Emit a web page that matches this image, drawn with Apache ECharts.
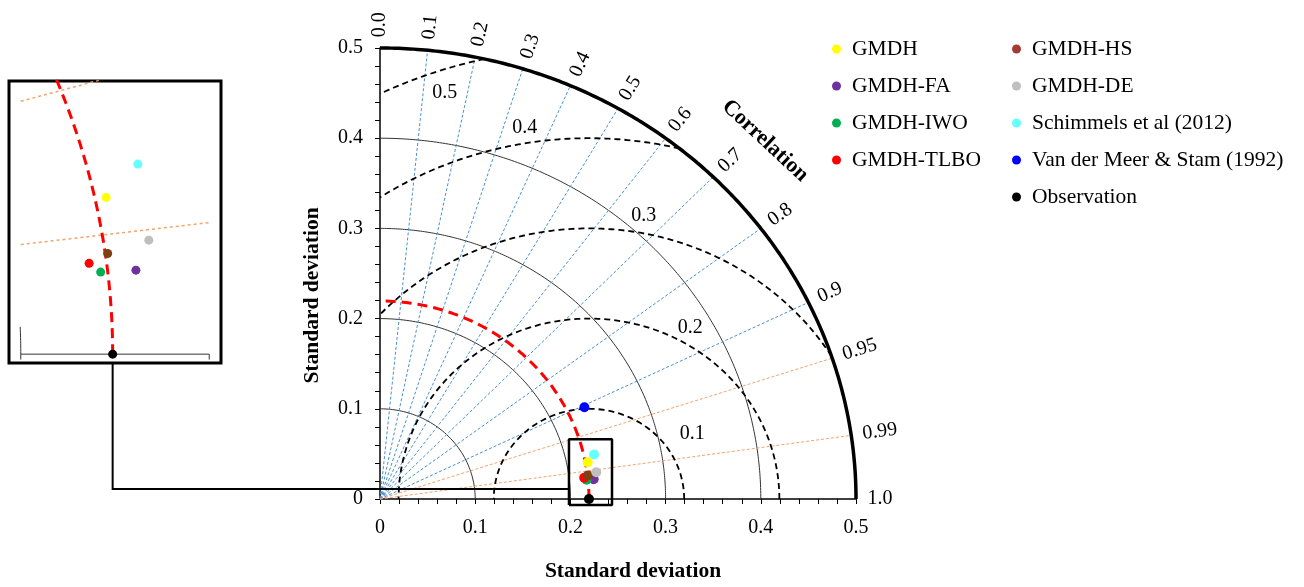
<!DOCTYPE html>
<html><head><meta charset="utf-8">
<script src="https://cdn.jsdelivr.net/npm/echarts@6/dist/echarts.min.js"></script>
<style>html,body{margin:0;padding:0;background:#fff}#c{width:1304px;height:587px}</style>
</head><body><div id="c"></div>
<script>
// ---- data ----
const modelNames = ['GMDH','GMDH-FA','GMDH-IWO','GMDH-TLBO','GMDH-HS','GMDH-DE','Schimmels et al (2012)','Van der Meer & Stam (1992)','Observation'];
const markerColors = ['#FFFF00','#7030A0','#00B050','#FF0000','#7E3F12','#BFBFBF','#66FFFF','#0000FF','#000000'];
const legendColors = ['#FFFF00','#7030A0','#00B050','#FF0000','#A33A33','#BFBFBF','#66FFFF','#0000FF','#000000'];
const stdDev      = [0.2219, 0.2255, 0.2180, 0.2158, 0.2200, 0.2291, 0.2302, 0.2376, 0.2195];
const correlation = [0.9830, 0.9953, 0.9952, 0.9940, 0.9929, 0.9916, 0.9767, 0.9036, 1.0];
const stdTicks = [0, 0.1, 0.2, 0.3, 0.4, 0.5];
const stdArcs = [0.1, 0.2, 0.3, 0.4];
const corrTicks = [0.0, 0.1, 0.2, 0.3, 0.4, 0.5, 0.6, 0.7, 0.8, 0.9, 0.95, 0.99, 1.0];
const corrTickLabels = ['0.0','0.1','0.2','0.3','0.4','0.5','0.6','0.7','0.8','0.9','0.95','0.99','1.0'];
const rmsdLevels = [0.1, 0.2, 0.3, 0.4, 0.5];
const rmsdLabels = ['0.1','0.2','0.3','0.4','0.5'];

// ---- helpers ----
const FONT = '"Liberation Serif","Times New Roman",serif';
const obsStd = stdDev[stdDev.length - 1];
const maxStd = stdTicks[stdTicks.length - 1];
const toXY = (s, c) => [s * c, s * Math.sqrt(Math.max(0, 1 - c * c))];
function arc(cx, cy, r, t0, t1, n) {
  n = n || 200; const p = [];
  for (let i = 0; i <= n; i++) { const t = t0 + (t1 - t0) * i / n; p.push([cx + r * Math.cos(t), cy + r * Math.sin(t)]); }
  return p;
}
function lineS(data, color, width, type, extra) {
  return Object.assign({ type: 'line', data: data, showSymbol: false, symbol: 'none', silent: true,
    animation: false, clip: false, z: 2, lineStyle: { color: color, width: width, type: type } }, extra || {});
}

const series = [];
// std arcs
stdArcs.forEach(r => series.push(lineS(arc(0, 0, r, 0, Math.PI / 2), '#333', 1, 'solid')));
series.push(lineS(arc(0, 0, maxStd, 0, Math.PI / 2), '#000', 3.5, 'solid', { z: 4 }));
// correlation rays
corrTicks.forEach(c => {
  if (c <= 0 || c >= 1) return;
  const col = c > 0.9 ? '#F4A36C' : '#4A90D0';
  series.push(lineS([[0, 0], toXY(maxStd, c)], col, 1, [3, 2]));
});
// RMSD arcs centred on observation
rmsdLevels.forEach(R => {
  const lo = Math.max(-1, -obsStd / R);
  const hi = Math.min(1, (maxStd * maxStd - obsStd * obsStd - R * R) / (2 * obsStd * R));
  series.push(lineS(arc(obsStd, 0, R, Math.acos(hi), Math.acos(lo)), '#000', 1.8, [6, 4], { z: 3 }));
});
// reference (observation std) arc
series.push(lineS(arc(0, 0, obsStd, 0, Math.PI / 2), '#FF0000', 3, [10, 6], { z: 3 }));

// zoom box in main plot
const boxX = [0.1985, 0.2437], boxY = [-0.0066, 0.0663];
const connectorY = 0.011;
series.push(lineS([[boxX[0], boxY[0]], [boxX[1], boxY[0]], [boxX[1], boxY[1]], [boxX[0], boxY[1]], [boxX[0], boxY[0]]], '#000', 2.5, 'solid', { z: 6 }));

// main scatter
modelNames.forEach((n, i) => {
  series.push({ type: 'scatter', name: n, data: [toXY(stdDev[i], correlation[i])], symbolSize: 10,
    itemStyle: { color: markerColors[i], opacity: 1 }, z: 10, animation: false, clip: false });
});

// texts: correlation labels
series.push({ type: 'custom', silent: true, animation: false, z: 8,
  data: corrTicks.map(c => [c, 0]),
  renderItem: function (params, api) {
    const c = corrTicks[params.dataIndex];
    const o = api.coord([0, 0]);
    const p = api.coord(toXY(0.512, c));
    const ang = Math.atan2(-(p[1] - o[1]), p[0] - o[0]);
    return { type: 'text', x: p[0], y: p[1], rotation: ang,
      style: { text: corrTickLabels[params.dataIndex], fontSize: 20, fontFamily: FONT, fill: '#000', align: 'left', verticalAlign: 'middle' } };
  } });
// "Correlation" title
series.push({ type: 'custom', silent: true, animation: false, z: 8, data: [[0.4045, 0.397]],
  renderItem: function (params, api) {
    const p = api.coord([0.4045, 0.397]);
    return { type: 'text', x: p[0], y: p[1], rotation: -43 * Math.PI / 180,
      style: { text: 'Correlation', fontSize: 22, fontWeight: 'bold', fontFamily: FONT, fill: '#000', align: 'center', verticalAlign: 'middle' } };
  } });
// RMSD labels
const rmsdLabelAt = [[0.328, 0.0725], [0.326, 0.19], [0.277, 0.314], [0.152, 0.412], [0.068, 0.45]];
series.push({ type: 'custom', silent: true, animation: false, z: 8, data: rmsdLabelAt,
  renderItem: function (params, api) {
    const p = api.coord(rmsdLabelAt[params.dataIndex]);
    return { type: 'text', x: p[0], y: p[1],
      style: { text: rmsdLabels[params.dataIndex], fontSize: 20, fontFamily: FONT, fill: '#000', align: 'center', verticalAlign: 'middle' } };
  } });

// ---- inset (grid 1) ----
const ins = { xAxisIndex: 1, yAxisIndex: 1 };
const insetX = [0.1975, 0.2425], insetY = [-0.0023, 0.0710];
series.push(lineS(arc(0, 0, obsStd, 0, 0.36, 120), '#FF0000', 3, [10, 6], Object.assign({ clip: true, z: 3 }, ins)));
corrTicks.forEach(c => {
  if (c <= 0.9 || c >= 1) return;
  const t = Math.sqrt(1 - c * c) / c;
  series.push(lineS([[0.2, 0.2 * t], [0.2405, 0.2405 * t]], '#F4A36C', 1.5, [3, 3], Object.assign({ clip: true }, ins)));
});
series.push(lineS(arc(0, 0, 0.2, 0, 0.0355, 10), '#333', 1, 'solid', Object.assign({ clip: true }, ins)));
series.push(lineS([[0.2, -0.0014], [0.2, 0], [0.24, 0], [0.24, -0.0014]], '#333', 1, 'solid', Object.assign({ clip: true }, ins)));
modelNames.forEach((n, i) => {
  series.push(Object.assign({ type: 'scatter', name: n, data: [toXY(stdDev[i], correlation[i])], symbolSize: 9,
    itemStyle: { color: markerColors[i], opacity: 1 }, z: 10, animation: false, clip: true }, ins));
});

const axisCommon = {
  type: 'value', min: 0, max: maxStd, interval: 0.1,
  axisLine: { show: true, onZero: false, lineStyle: { color: '#000', width: 1.5 } },
  axisTick: { show: true, length: 5, inside: false, lineStyle: { color: '#000', width: 1 } },
  minorTick: { show: true, splitNumber: 5, length: 5, lineStyle: { color: '#000', width: 1 } },
  splitLine: { show: false },
  nameLocation: 'middle',
  nameTextStyle: { fontSize: 21.5, fontWeight: 'bold', fontFamily: FONT, color: '#000' }
};

const legendBase = { orient: 'vertical', itemGap: 15, itemWidth: 9, itemHeight: 9, icon: 'circle', padding: 0, top: 38,
  selectedMode: false, textStyle: { fontFamily: FONT, fontSize: 21.5, color: '#000', lineHeight: 22, padding: [0, 0, 0, 6] } };
const legendItems = modelNames.map((n, i) => ({ name: n, itemStyle: { color: legendColors[i] } }));

const option = {
  backgroundColor: '#fff',
  animation: false,
  grid: [
    { left: 380, top: 48, width: 476, height: 455, containLabel: false },
    { left: 9, top: 81, width: 212, height: 282, show: true, borderColor: '#000', borderWidth: 3, backgroundColor: 'transparent' }
  ],
  xAxis: [
    Object.assign({}, axisCommon, { gridIndex: 0, name: 'Standard deviation', nameGap: 61,
      axisLabel: { fontSize: 20, fontFamily: FONT, color: '#000', margin: 19 },
      nameTextStyle: Object.assign({}, axisCommon.nameTextStyle, { padding: [0, 0, 0, 30] }) }),
    { type: 'value', gridIndex: 1, min: insetX[0], max: insetX[1], show: false, splitLine: { show: false } }
  ],
  yAxis: [
    Object.assign({}, axisCommon, { gridIndex: 0, name: 'Standard deviation', nameGap: 57,
      axisLabel: { fontSize: 20, fontFamily: FONT, color: '#000', margin: 17 },
      nameTextStyle: Object.assign({}, axisCommon.nameTextStyle, { padding: [0, 44, 0, 0] }) }),
    { type: 'value', gridIndex: 1, min: insetY[0], max: insetY[1], show: false, splitLine: { show: false } }
  ],
  legend: [
    Object.assign({}, legendBase, { left: 832, data: legendItems.slice(0, 4) }),
    Object.assign({}, legendBase, { left: 1012, data: legendItems.slice(4) })
  ],
  series: series
};
const chart = echarts.init(document.getElementById('c'));
chart.setOption(option);

// connector from the inset frame to the zoom box, positioned through the axes
const pInset = chart.convertToPixel({ gridIndex: 1 }, [obsStd, insetY[0]]);
const pBox = chart.convertToPixel({ gridIndex: 0 }, [boxX[0], connectorY]);
chart.setOption({ graphic: [{ type: 'polyline', silent: true, z: 100,
  shape: { points: [[pInset[0], pInset[1] + 1], [pInset[0], pBox[1]], [pBox[0], pBox[1]]] },
  style: { stroke: '#000', lineWidth: 2, fill: null } }] });
</script></body></html>
